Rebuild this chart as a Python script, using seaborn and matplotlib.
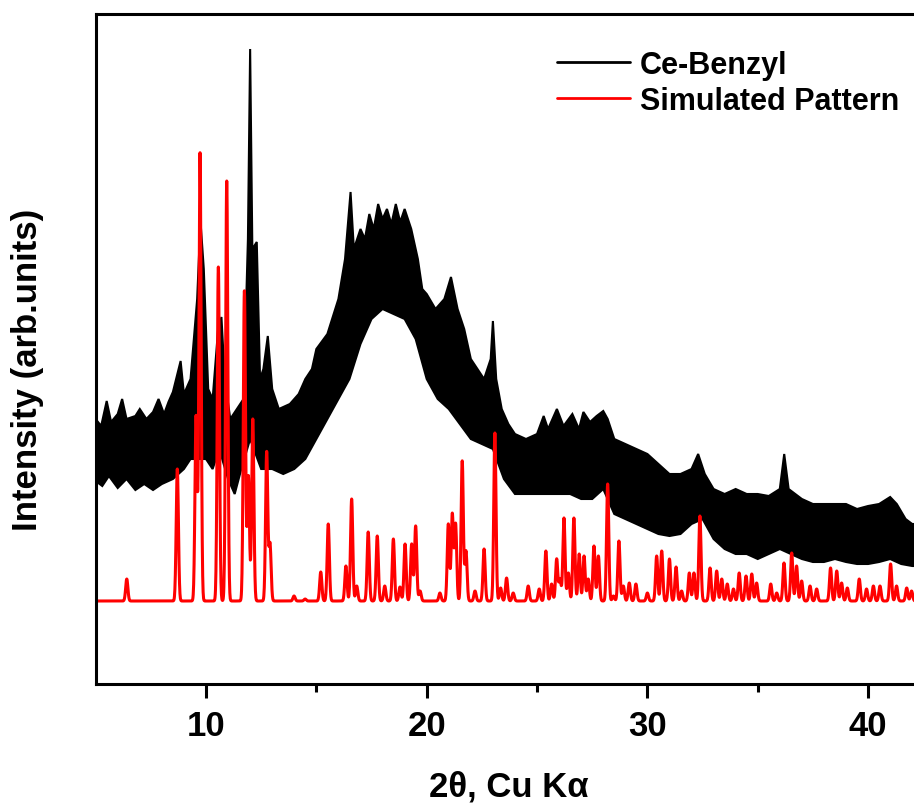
import numpy as np
import pandas as pd
import matplotlib.pyplot as plt
import seaborn as sns
from matplotlib.lines import Line2D

# Ce-Benzyl measured pattern, read as an upper and a lower envelope of the noisy trace
top_x = [5.0, 5.25, 5.5, 5.7, 6.0, 6.2, 6.4, 6.8, 7.0, 7.3, 7.6, 7.85, 8.1, 8.3,
         8.5, 8.85, 9.0, 9.3, 9.6, 9.75, 9.9,
         10.1, 10.3, 10.55, 10.7, 10.85, 11.1, 11.4, 11.7, 11.9, 12.0, 12.1, 12.3,
         12.45, 12.6, 12.8, 13.0, 13.3, 13.8, 14.2, 14.5, 14.8, 15.0, 15.5, 16.0,
         16.3, 16.55, 16.7, 17.0, 17.2, 17.4, 17.6, 17.8, 18.0, 18.2, 18.4, 18.6,
         18.8, 19.0, 19.3, 19.6, 19.8,
         20.0, 20.4, 20.8, 21.1, 21.4, 21.7, 22.0, 22.3, 22.6, 22.9, 23.0, 23.15,
         23.4, 23.7, 24.0, 24.5, 25.0, 25.3, 25.5, 25.9, 26.2, 26.6, 26.9, 27.1,
         27.4, 27.7, 28.0, 28.2,
         28.5, 29.0, 29.5, 30.0, 30.5, 31.0, 31.5, 32.0, 32.3, 32.6, 33.0, 33.5,
         34.0, 34.5, 35.0, 35.5, 36.0, 36.2, 36.4, 37.0, 37.5, 38.0, 38.5, 39.0,
         39.5, 40.0, 40.5, 41.0, 41.3, 41.7, 42.0, 42.4]
top_y = [265, 258, 283, 262, 270, 285, 265, 268, 275, 265, 272, 285, 270, 282,
         292, 323, 290, 305, 385, 463, 415,
         295, 285, 355, 367, 305, 265, 275, 285, 445, 635, 435, 442,
         305, 315, 348, 295, 275, 280, 290, 305, 315, 335, 350, 385,
         425, 492, 435, 455, 445, 470, 455, 480, 465, 475, 460, 480,
         462, 475, 455, 425, 395,
         390, 375, 385, 407, 375, 355, 325, 315, 305, 325, 363, 305,
         275, 260, 250, 245, 250, 268, 255, 275, 258, 270, 255, 272,
         262, 268, 273, 265,
         245, 240, 235, 230, 220, 210, 210, 215, 230, 210, 195, 190,
         195, 190, 190, 188, 195, 230, 195, 185, 180, 180, 180, 180,
         175, 178, 180, 187, 180, 165, 160, 160]

bot_x = [5.0, 5.3, 5.6, 6.0, 6.4, 6.8, 7.2, 7.6, 8.0, 8.5, 9.0, 9.3, 10.0, 10.3,
         10.6, 11.0, 11.3, 11.6,
         12.0, 12.5, 13.0, 13.5, 14.0, 14.5, 15.0, 15.5, 16.0, 16.5, 17.0, 17.5,
         18.0, 18.5, 19.0, 19.5, 20.0, 20.5, 21.0, 21.5, 22.0, 22.5, 23.0, 23.5,
         24.0, 24.5, 25.0, 25.5, 26.0, 26.5, 27.0, 27.5, 28.0, 28.5, 29.0, 29.5,
         30.0, 30.5, 31.0, 31.5, 32.0, 32.5, 33.0, 33.5, 34.0, 34.5, 35.0, 35.5,
         36.0, 36.5, 37.0, 37.5, 38.0, 38.5, 39.0, 39.5, 40.0, 40.5, 41.0, 41.5,
         42.0, 42.4]
bot_y = [203, 198, 208, 196, 205, 194, 200, 194, 200, 205, 215, 225, 225, 215,
         235, 205, 190, 215,
         245, 215, 215, 210, 215, 225, 245, 265, 285, 305, 340, 365,
         375, 370, 365, 345, 305, 285, 275, 260, 245, 240, 235, 205,
         190, 190, 190, 190, 190, 190, 185, 185, 195, 170, 165, 160,
         155, 150, 148, 150, 160, 165, 145, 135, 130, 130, 125, 130,
         135, 130, 125, 122, 122, 125, 122, 120, 120, 122, 125, 120,
         118, 118]

# Simulated pattern: peak positions (2theta) and heights above its baseline
sim_pos = [6.41, 8.70, 9.55, 9.73, 10.56, 10.94, 11.74, 11.92, 12.12, 12.75, 12.90,
           13.99, 14.49, 15.20, 15.54, 16.34, 16.60, 16.83, 17.35, 17.76, 18.10,
           18.49, 18.79, 19.02, 19.32, 19.50, 19.70, 20.60, 20.98, 21.16, 21.31,
           21.61, 21.78, 22.19, 22.60, 23.09, 23.35, 23.62, 23.92, 24.60, 25.10,
           25.40, 25.66, 25.89, 26.04, 26.22, 26.42, 26.67, 26.91, 27.13, 27.32,
           27.58, 27.78, 28.20, 28.46, 28.71, 28.91, 29.18, 29.48, 30.00, 30.42,
           30.65, 31.00, 31.30, 31.55, 31.90, 32.11, 32.38, 32.84, 33.14, 33.37,
           33.62, 33.90, 34.16, 34.47, 34.73, 34.95, 35.59, 35.86, 36.19, 36.54,
           36.76, 36.99, 37.37, 37.67, 38.30, 38.58, 38.80, 39.06, 39.60, 39.93,
           40.24, 40.54, 41.02, 41.29, 41.75, 41.97]
sim_height = [22, 132, 185, 448, 334, 420, 310, 125, 182, 149, 57,
              5, 2, 29, 77, 35, 102, 15, 69, 65, 15,
              62, 14, 57, 57, 75, 10, 8, 77, 87, 77,
              140, 50, 10, 52, 168, 13, 23, 8, 15, 12,
              50, 17, 42, 22, 83, 28, 83, 47, 45, 22,
              55, 45, 117, 5, 60, 15, 18, 17, 8, 45,
              50, 42, 34, 10, 28, 28, 85, 33, 30, 22,
              17, 12, 28, 25, 27, 18, 17, 8, 38, 48,
              35, 20, 15, 12, 33, 30, 18, 13, 22, 12,
              15, 15, 37, 15, 13, 10]
sim_offset = 83

# peak profile for the simulated pattern
grid = np.arange(5.0, 42.4, 0.01)
sim = np.zeros_like(grid)
for p, h in zip(sim_pos, sim_height):
    sim += h * np.exp(-0.5 * ((grid - p) / 0.05) ** 2)
df_sim = pd.DataFrame({'two_theta': grid, 'intensity': sim + sim_offset})

sns.set_theme(style="white")
plt.rcParams['font.family'] = ['Liberation Sans', 'DejaVu Sans']
plt.rcParams['font.weight'] = 'bold'
plt.rcParams['text.color'] = 'black'
plt.rcParams['axes.labelcolor'] = 'black'
plt.rcParams['xtick.color'] = 'black'

fig = plt.figure(figsize=(9.14, 8.04), dpi=100)
ax = fig.add_axes([95.65 / 914, 119 / 804, 825.4 / 914, 670 / 804])

ax.fill(np.concatenate([top_x, bot_x[::-1]]), np.concatenate([top_y, bot_y[::-1]]),
        color='black', lw=1.5, ec='black')
sns.lineplot(data=df_sim, x='two_theta', y='intensity', color='red', lw=2.2,
             estimator=None, sort=False, ax=ax)

ax.set_xlim(5, 42.4)
ax.set_ylim(0, 670)
ax.set_xticks([10, 20, 30, 40])
ax.set_xticks([15, 25, 35], minor=True)
ax.set_yticks([])
ax.tick_params(axis='x', which='major', direction='out', length=10, width=2.2,
               labelsize=25, pad=8, bottom=True, color='black', labelcolor='black')
ax.tick_params(axis='x', which='minor', direction='out', length=6, width=2.2,
               bottom=True, color='black')
for lab in ax.get_xticklabels():
    lab.set_fontweight('bold')
for s in ax.spines.values():
    s.set_linewidth(2.2)
    s.set_color('black')

ax.set_xlabel('2θ, Cu Kα', fontsize=25, fontweight='bold', color='black')
ax.xaxis.set_label_coords(0.5, -0.128)
ax.set_ylabel('Intensity (arb.units)', fontsize=25, fontweight='bold', va='center',
              color='black')
ax.yaxis.set_label_coords(-0.082, 0.47)

handles = [Line2D([], [], color='black', lw=2), Line2D([], [], color='red', lw=2)]
leg = ax.legend(handles, ['Ce-Benzyl', 'Simulated Pattern'], loc='upper left',
                bbox_to_anchor=(0.559, 0.947), frameon=False, borderpad=0,
                borderaxespad=0, handlelength=2.4, handletextpad=0.3,
                labelspacing=0.2, prop={'size': 22, 'weight': 'bold'})
for t in leg.get_texts():
    t.set_color('black')

fig.savefig('out.png', dpi=100)
